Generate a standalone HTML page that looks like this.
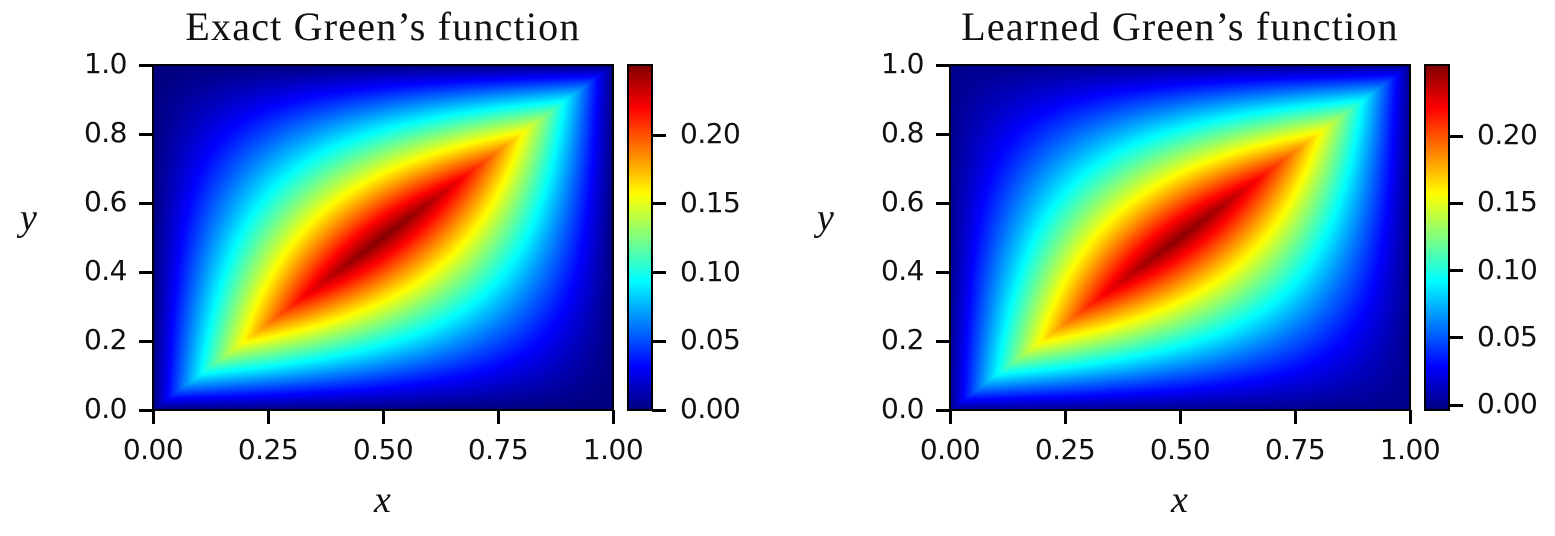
<!DOCTYPE html>
<html><head><meta charset="utf-8">
<style>
body{margin:0;background:#fff;width:1555px;height:536px;overflow:hidden;position:relative;font-family:"DejaVu Sans","Liberation Sans",sans-serif}
canvas,div{position:absolute}
.t{font-size:28px;line-height:32px;color:#111;white-space:nowrap;letter-spacing:-0.5px}
.title{font-family:"Liberation Serif",serif;font-size:40px;line-height:46px;color:#111;white-space:nowrap;letter-spacing:1.2px}
.lab{font-family:"Liberation Serif",serif;font-style:italic;font-size:38px;color:#111}
.frame{border:2.5px solid #000;box-sizing:border-box}
.tk{background:#000}
</style></head><body>
<script>
const xTicks=[0,0.25,0.5,0.75,1.0];
const xTickLabels=["0.00","0.25","0.50","0.75","1.00"];
const yTicks=[0,0.2,0.4,0.6,0.8,1.0];
const yTickLabels=["0.0","0.2","0.4","0.6","0.8","1.0"];
const cbTicks=[0,0.05,0.10,0.15,0.20];
const cbTickLabels=["0.00","0.05","0.10","0.15","0.20"];
const panelTitles=["Exact Green\u2019s function","Learned Green\u2019s function"];
const vRanges=[[0,0.251],[-0.0037,0.253]];
const gridN=[460,345];

function jet(v){
  const f=(x)=>Math.max(0,Math.min(1,x));
  return [f(1.5-Math.abs(4*v-3)),f(1.5-Math.abs(4*v-2)),f(1.5-Math.abs(4*v-1))].map(c=>Math.round(c*255));
}
function green(x,y){return x<y? x*(1-y): y*(1-x);}
function mk(tag,cls,name,css,text){
  const e=document.createElement(tag);
  if(cls)e.className=cls;
  
  
  Object.assign(e.style,css);
  if(text!==undefined)e.textContent=text;
  document.body.appendChild(e);return e;
}
const L=[153,950],T=65,W=460,H=345,CBX=[628,1425],CBW=24;
for(let p=0;p<2;p++){
  const x0=L[p],[vmin,vmax]=vRanges[p];
  const sx=v=>x0+v*W, sy=v=>T+H-v*H, sc=v=>T+H-(v-vmin)/(vmax-vmin)*H;
  const cv=mk('canvas','', 'heatmap-'+(p?'learned':'exact'),{left:x0+'px',top:T+'px',width:W+'px',height:H+'px'});
  cv.width=gridN[0];cv.height=gridN[1];
  const ctx=cv.getContext('2d'),img=ctx.createImageData(gridN[0],gridN[1]);
  for(let j=0;j<gridN[1];j++)for(let i=0;i<gridN[0];i++){
    const xv=(i+0.5)/gridN[0],yv=1-(j+0.5)/gridN[1];
    const c=jet((green(xv,yv)-vmin)/(vmax-vmin));
    const k=4*(j*gridN[0]+i);img.data[k]=c[0];img.data[k+1]=c[1];img.data[k+2]=c[2];img.data[k+3]=255;
  }
  ctx.putImageData(img,0,0);
  mk('div','frame','plot-frame',{left:(x0-1)+'px',top:(T-1)+'px',width:(W+2)+'px',height:(H+2)+'px'});
  mk('div','title','plot-title',{left:(x0-40)+'px',width:(W+80)+'px',textAlign:'center',top:'4px'},panelTitles[p]);
  xTicks.forEach((v,i)=>{
    mk('div','tk','x-tick',{left:(sx(v)-1.5)+'px',top:(T+H)+'px',width:'3px',height:'14px'});
    mk('div','t','x-tick-label',{left:(sx(v)-50)+'px',width:'100px',textAlign:'center',top:(T+H+24)+'px'},xTickLabels[i]);
  });
  yTicks.forEach((v,i)=>{
    mk('div','tk','y-tick',{left:(x0-14)+'px',top:(sy(v)-1.5)+'px',width:'14px',height:'3px'});
    mk('div','t','y-tick-label',{left:(x0-100)+'px',width:'74px',textAlign:'right',top:(sy(v)-17)+'px'},yTickLabels[i]);
  });
  mk('div','lab','x-axis-title',{left:(x0+W/2-9)+'px',top:'478px'},'x');
  mk('div','lab','y-axis-title',{left:(x0-133)+'px',top:'196px'},'y');
  const cb=mk('canvas','','colorbar',{left:CBX[p]+'px',top:T+'px',width:CBW+'px',height:H+'px'});
  cb.width=1;cb.height=H;const cc=cb.getContext('2d');
  for(let j=0;j<H;j++){const c=jet(1-(j+0.5)/H);cc.fillStyle=`rgb(${c})`;cc.fillRect(0,j,1,1);}
  mk('div','frame','colorbar-frame',{left:(CBX[p]-1)+'px',top:(T-1)+'px',width:(CBW+2)+'px',height:(H+2)+'px'});
  cbTicks.forEach((v,i)=>{
    mk('div','tk','colorbar-tick',{left:(CBX[p]+CBW)+'px',top:(sc(v)-1.5)+'px',width:'14px',height:'3px'});
    mk('div','t','colorbar-tick-label',{left:(CBX[p]+CBW+28)+'px',top:(sc(v)-17)+'px'},cbTickLabels[i]);
  });
}
</script>
</body></html>
